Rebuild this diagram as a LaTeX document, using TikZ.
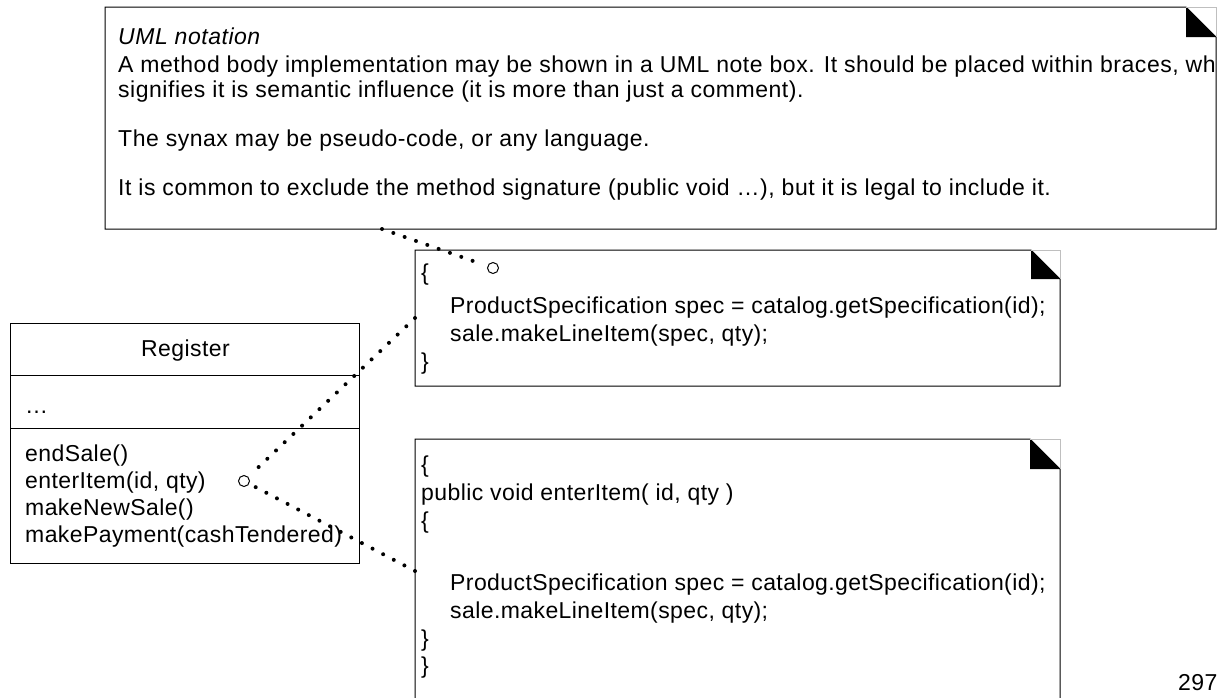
\documentclass[tikz,border=0pt]{standalone}
\usepackage{fontspec}
\setmainfont[LetterSpace=1.8]{Liberation Sans}
\usetikzlibrary{calc}
\tikzset{
  txt/.style={anchor=base west, inner sep=0pt, font=\fontsize{23}{27}\selectfont},
  bigtxt/.style={anchor=base west, inner sep=0pt, font=\fontsize{23}{25}\selectfont\addfontfeature{LetterSpace=2.3}},
  conn/.style={line width=4pt, line cap=round, dash pattern=on 0pt off 12pt, shorten >=5pt},
  port/.style={circle, draw, line width=1pt, minimum size=11pt, inner sep=0pt, fill=white},
  outline/.style={line width=1pt},
  foldedge/.style={draw=black!25, line width=0.8pt},
}
\newcommand\umlnote[5]{%
  \draw[outline] (#1,#2) -- (#3-#5,#2) -- (#3,#2+#5) -- (#3,#4) -- (#1,#4) -- cycle;
  \fill (#3-#5,#2) -- (#3-#5,#2+#5) -- (#3,#2+#5) -- cycle;
  \draw[foldedge] (#3-#5,#2) -- (#3,#2) -- (#3,#2+#5);
}
\begin{document}
\begin{tikzpicture}[x=1pt,y=-1pt]
\useasboundingbox (0,0) rectangle (1226,697);
\fill[white] (0,0) rectangle (1226,697);

% big note
\umlnote{105}{7}{1216}{229}{30}
\begin{scope}
\clip (105,7) rectangle (1216,229);
\node[bigtxt] (t0) at (118,44) {\itshape UML notation};
\node[bigtxt] (t1) at (118,72) {A method body implementation may be shown in a UML note box. It should be placed within braces, wh};
\node[bigtxt] (t2) at (118,97) {signifies it is semantic influence (it is more than just a comment).};
\node[bigtxt] (t3) at (118,146) {The synax may be pseudo-code, or any language.};
\node[bigtxt] (t4) at (118,195) {It is common to exclude the method signature (public void \dots), but it is legal to include it.};
\end{scope}

% note 1
\umlnote{415}{250}{1060}{386}{29}
\node[txt] (a0) at (421,280) {\{};
\node[txt] (a1) at (450,313) {ProductSpecification spec = catalog.getSpecification(id);};
\node[txt] (a2) at (450,341) {sale.makeLineItem(spec, qty);};
\node[txt] (a3) at (421,369) {\}};

% note 2
\umlnote{415}{439}{1060}{720}{30}
\node[txt] (b0) at (421,472) {\{};
\node[txt] (b1) at (421,500) {public void enterItem( id, qty )};
\node[txt] (b2) at (421,528) {\{};
\node[txt] (b3) at (450,590) {ProductSpecification spec = catalog.getSpecification(id);};
\node[txt] (b4) at (450,618) {sale.makeLineItem(spec, qty);};
\node[txt] (b5) at (421,646) {\}};
\node[txt] (b6) at (421,673) {\}};

% Register class
\draw[outline] (10,323) rectangle (359,563);
\draw[outline] (10,375) -- (359,375);
\draw[outline] (10,428) -- (359,428);
\node[txt, anchor=base] (reg) at (185.5,356) {Register};
\node[txt] (attr) at (25,413) {\dots};
\node[txt] (m1) at (25,461) {endSale()};
\node[txt] (m2) at (25,488) {enterItem(id, qty)};
\node[txt] (m3) at (25,515) {makeNewSale()};
\node[txt] (m4) at (25,542) {makePayment(cashTendered)};

% page number
\node[txt] (pg) at (1178,690) {297};

% connectors
\coordinate (umlB) at (382,229);
\coordinate (n1L) at (415,318);
\coordinate (n2L) at (415,571);
\node[port] (p1) at (493,268) {};
\node[port] (p2) at (244,481) {};
\draw[conn] (umlB) -- (p1);
\draw[conn] (n1L) -- (p2);
\draw[conn] (n2L) -- (p2);
\end{tikzpicture}
\end{document}
